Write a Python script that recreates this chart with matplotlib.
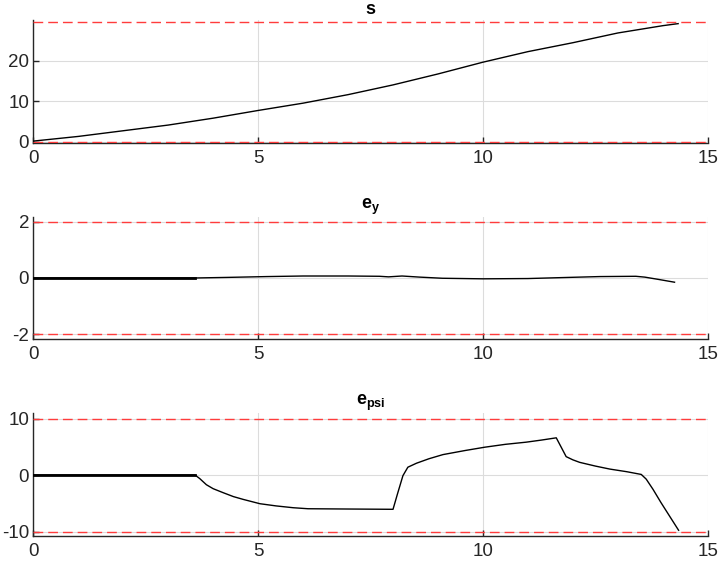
import numpy as np
import matplotlib
matplotlib.use("Agg")
import matplotlib.pyplot as plt

plt.rcParams["font.family"] = ["Liberation Sans", "DejaVu Sans"]
plt.rcParams["mathtext.fontset"] = "custom"
plt.rcParams["mathtext.bf"] = "Liberation Sans:bold"
plt.rcParams["mathtext.rm"] = "Liberation Sans"
plt.rcParams["axes.unicode_minus"] = False

# progress along track s
s_t = [0, 1, 2, 3, 4, 5, 6, 7, 8, 9, 10, 11, 12, 13, 14, 14.34]
s_val = [0.15, 1.3, 2.7, 4.1, 5.8, 7.7, 9.5, 11.6, 14.0, 16.7, 19.6, 22.2, 24.4, 26.8, 28.6, 29.1]
s_bounds = [0.0, 29.5]

# lateral error e_y
ey_t = [0, 3.6, 4.3, 5.2, 6.0, 7.0, 7.7, 7.9, 8.2, 8.6, 9.1, 10.0, 11.0, 11.9, 12.6, 13.4,
        13.6, 13.9, 14.26]
ey_val = [0, 0, 0.02, 0.05, 0.07, 0.07, 0.06, 0.04, 0.07, 0.03, -0.01, -0.03, -0.02, 0.02,
          0.05, 0.06, 0.03, -0.05, -0.15]
ey_bounds = [-2.0, 2.0]

# heading error e_psi
epsi_t = [0, 3.6, 3.7, 3.85, 4.0, 4.22, 4.45, 4.67, 5.04, 5.4, 5.78, 6.11, 7.0, 8.0, 8.1,
          8.22, 8.33, 8.52, 8.8, 9.11, 9.6, 10.04, 10.5, 10.96, 11.3, 11.63, 11.74, 11.85,
          12.0, 12.15, 12.5, 12.82, 13.2, 13.52, 13.63, 13.78, 13.96, 14.15, 14.35]
epsi_val = [0, 0, -0.6, -1.7, -2.4, -3.1, -3.8, -4.3, -5.06, -5.45, -5.77, -5.95, -6.0,
            -6.05, -3.3, -0.1, 1.4, 2.1, 2.9, 3.63, 4.35, 4.94, 5.45, 5.83, 6.2, 6.6, 4.94,
            3.27, 2.7, 2.26, 1.6, 1.07, 0.6, 0.12, -0.71, -2.5, -4.88, -7.26, -9.76]
epsi_bounds = [-10.0, 10.0]

T_FLAT = 3.6  # densely sampled start segment (drawn thicker)

panels = [
    ("s", s_t, s_val, s_bounds, (-0.25, 30.0), [0, 10, 20]),
    (r"$\mathbf{e_{y}}$", ey_t, ey_val, ey_bounds, (-2.16, 2.15), [-2, 0, 2]),
    (r"$\mathbf{e_{psi}}$", epsi_t, epsi_val, epsi_bounds, (-10.77, 10.95), [-10, 0, 10]),
]
rects = [
    [0.046, 0.7465, 0.933, 0.218],
    [0.046, 0.398, 0.933, 0.216],
    [0.046, 0.048, 0.933, 0.218],
]

DARK = "#262626"
fig = plt.figure(figsize=(7.23, 5.63), dpi=100)
for (title, t, v, bnd, ylim, yt), r in zip(panels, rects):
    ax = fig.add_axes(r)
    t = np.asarray(t); v = np.asarray(v)
    for b in bnd:
        ax.axhline(b, color="#ff3c3c", lw=1.0, dashes=(7, 3.6), zorder=3)
    ax.plot(t, v, color="k", lw=1.0, zorder=4)
    m = t <= T_FLAT
    if title != "s":
        ax.plot(t[m], v[m], color="k", lw=2.0, zorder=4)
    ax.set_xlim(0, 15)
    ax.set_ylim(*ylim)
    ax.set_xticks([0, 5, 10, 15])
    ax.set_yticks(yt)
    ax.grid(True, color="#dcdcdc", lw=0.8)
    ax.set_axisbelow(True)
    for side in ("top", "right"):
        ax.spines[side].set_visible(False)
    for side in ("left", "bottom"):
        ax.spines[side].set_color(DARK)
        ax.spines[side].set_linewidth(1.0)
    ax.tick_params(direction="in", length=4, width=1.0, colors=DARK,
                   labelsize=13.5, labelcolor=DARK)
    ax.tick_params(axis="y", pad=3)
    ax.tick_params(axis="x", pad=5)
    ax.set_title(title, fontsize=13, fontweight="bold", color="k", pad=4)

fig.savefig("out.png", dpi=100)
